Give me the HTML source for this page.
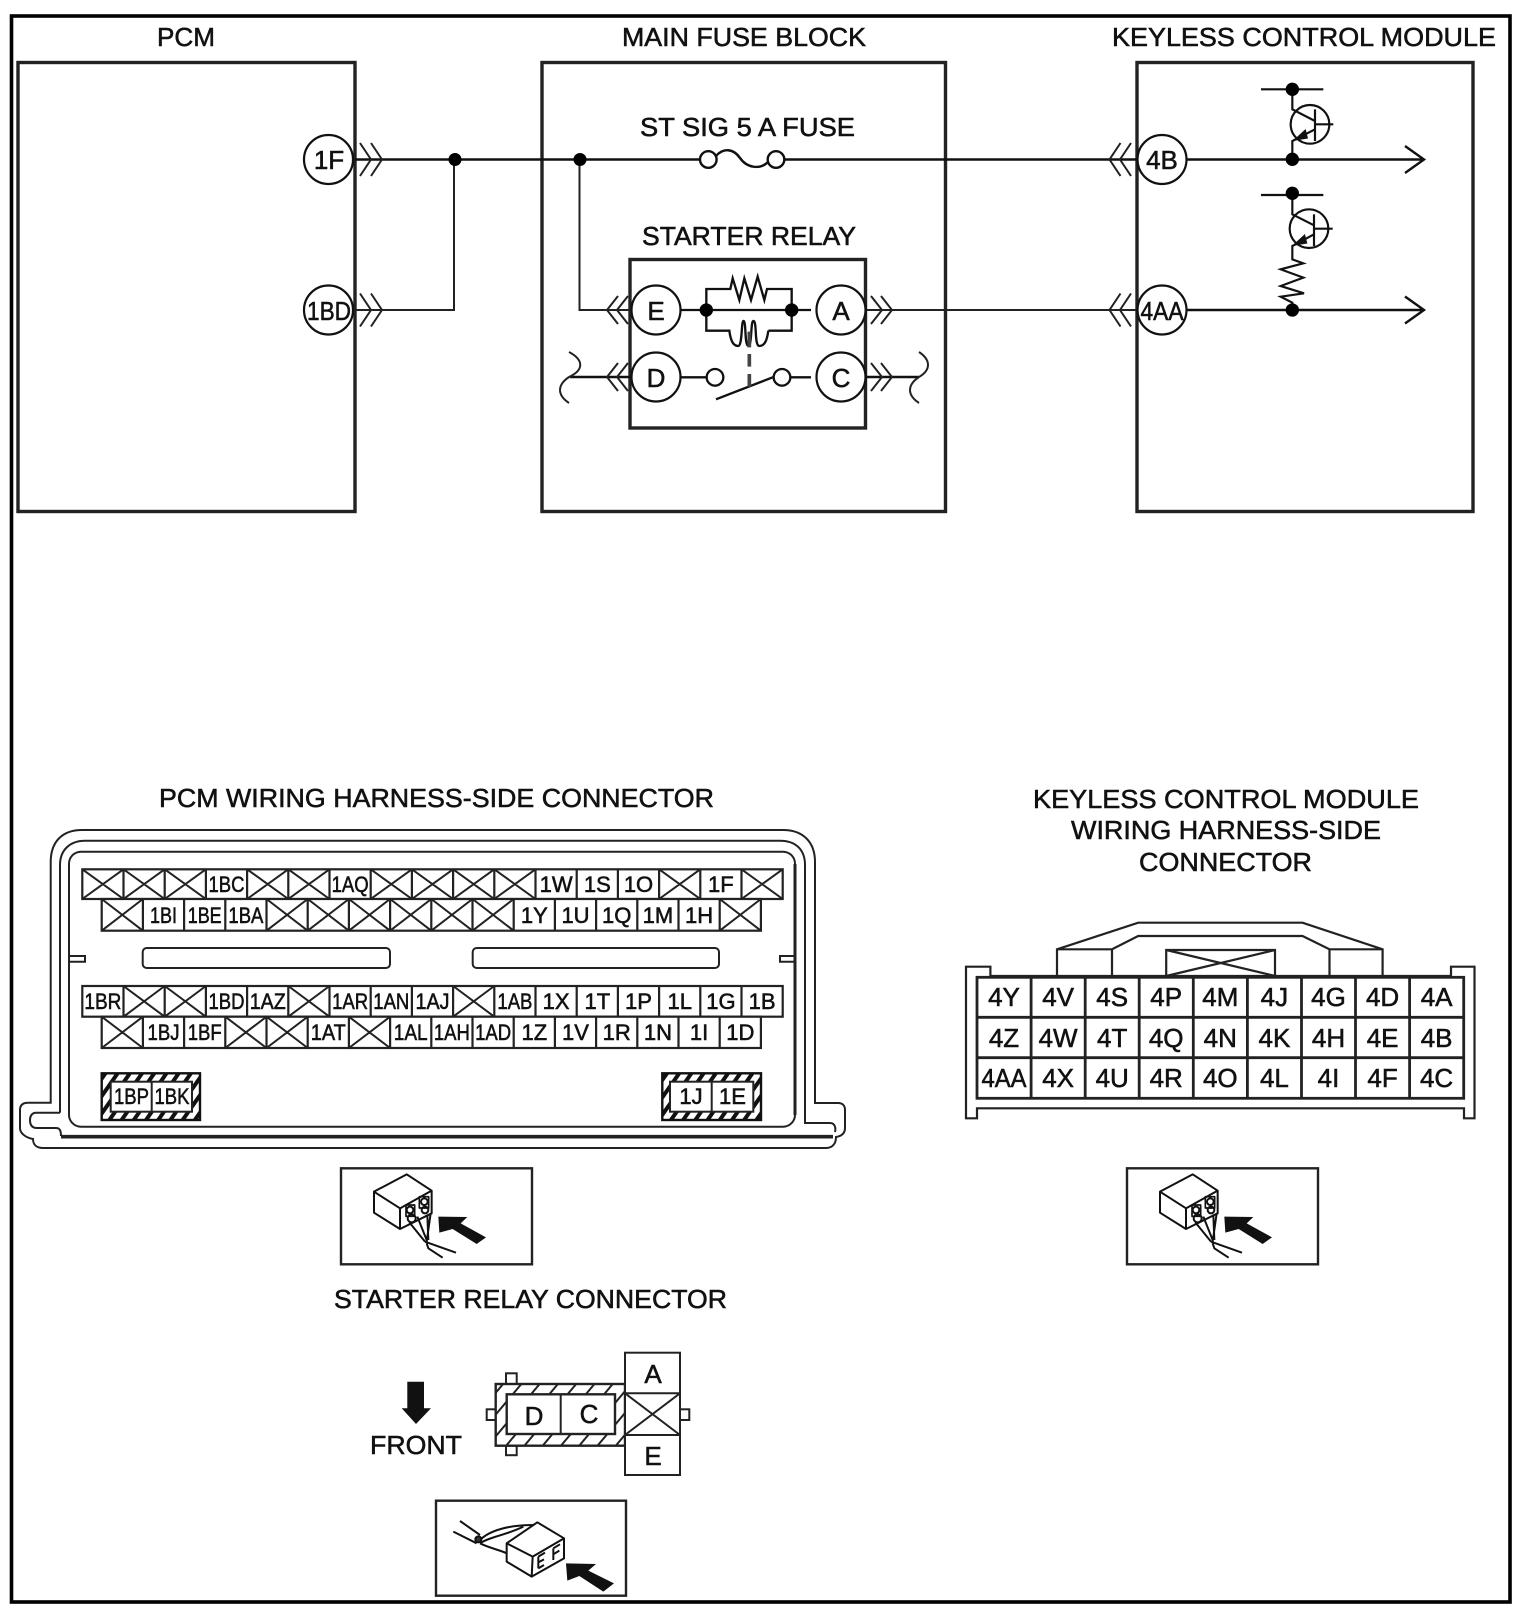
<!DOCTYPE html>
<html><head><meta charset="utf-8"><title>Starter relay wiring diagram</title>
<style>
html,body{margin:0;padding:0;background:#fff}
svg{display:block}
text{font-family:"Liberation Sans",sans-serif;fill:#111;stroke:#111;stroke-width:.55}
.t{font-size:26px;text-anchor:start}
.c{font-size:26px;text-anchor:middle}
.p{font-size:22px;text-anchor:middle}
.k{font-size:26px;text-anchor:middle}
.w{fill:none;stroke:#111;stroke-width:2.4}
.g{fill:none;stroke:#222;stroke-width:2}
.b{fill:none;stroke:#222;stroke-width:3.4}
</style></head><body>
<svg width="1526" height="1614" viewBox="0 0 1526 1614" xmlns="http://www.w3.org/2000/svg">
<defs>
<pattern id="h" width="10" height="10" patternUnits="userSpaceOnUse" patternTransform="rotate(35)"><rect width="10" height="10" fill="#fff"/><rect width="4" height="10" fill="#111"/></pattern>
<pattern id="h2" width="14" height="14" patternUnits="userSpaceOnUse" patternTransform="rotate(40)"><rect width="14" height="14" fill="#fff"/><rect width="2" height="14" fill="#222"/></pattern>
<g id="ic" fill="none" stroke="#111" stroke-width="6" stroke-linejoin="round">
<path d="M132 95L230 43L305 92L210 145ZM132 95V158L210 207V145M210 207L305 160V92"/>
<rect x="228" y="135" width="26" height="34" stroke-width="5"/><rect x="268" y="110" width="28" height="34" stroke-width="5"/>
<circle cx="240" cy="150" r="10"/><circle cx="245" cy="175" r="12"/><circle cx="283" cy="125" r="10"/><circle cx="285" cy="150" r="10"/>
<path d="M238 187L285 245M262 170L290 240M292 165L295 240M302 160L290 245M285 245L378 278M290 250L295 265L338 293"/>
<path d="M325 170L412 171L392 190L468 232L440 252L368 207L328 218Z" fill="#111" stroke="none"/>
</g>
</defs>
<rect width="1526" height="1614" fill="#fff"/>
<rect x="11.5" y="16" width="1498.5" height="1586" fill="none" stroke="#000" stroke-width="3.6"/>

<rect class="b" x="18" y="62.5" width="337" height="449"/>
<rect class="b" x="542" y="62.5" width="403.5" height="449"/>
<rect class="b" x="1137" y="62.5" width="336" height="449"/>
<rect class="b" x="630" y="259.5" width="235.5" height="168.5"/>

<text class="t" x="157" y="46" textLength="58" lengthAdjust="spacingAndGlyphs">PCM</text>
<text class="t" x="622" y="46" textLength="244" lengthAdjust="spacingAndGlyphs">MAIN FUSE BLOCK</text>
<text class="t" x="1112" y="46" textLength="384" lengthAdjust="spacingAndGlyphs">KEYLESS CONTROL MODULE</text>
<text class="t" x="640" y="136" textLength="215" lengthAdjust="spacingAndGlyphs">ST SIG 5 A FUSE</text>
<text class="t" x="642" y="245" textLength="214" lengthAdjust="spacingAndGlyphs">STARTER RELAY</text>

<!-- wires -->
<path class="w" d="M355 159.5H700M784 159.5H1137M1186 159.5H1423M1405 146L1424 159.5L1405 173"/>
<path class="w" d="M1186 310H1423M1405 296.5L1424 310L1405 323.5"/>
<path class="g" d="M355 310H454V159M579.5 159V310H631M866 310H1137"/>
<path class="w" d="M570 377H631M866 377H919"/>
<path class="g" d="M569 352C584 360 584 370 569 377C557 385 557 395 569 403M919 352C931 360 931 370 919 377C907 385 907 395 919 403" stroke-width="1.4"/>
<circle cx="455" cy="159.5" r="6.5" fill="#000"/><circle cx="580" cy="159.5" r="6.5" fill="#000"/>

<!-- chevrons -->
<path class="g" d="M360 143L371 159.5L360 176M371 143L382 159.5L371 176"/>
<path class="g" d="M360 293.5L371 310L360 326.5M371 293.5L382 310L371 326.5"/>
<path class="g" d="M1120.5 143L1109.5 159.5L1120.5 176M1131 143L1120 159.5L1131 176"/>
<path class="g" d="M1120.5 293.5L1109.5 310L1120.5 326.5M1131 293.5L1120 310L1131 326.5"/>
<path class="g" d="M618 296L607 310L618 324M628 296L617 310L628 324"/>
<path class="g" d="M618 363L607 377L618 391M628 363L617 377L628 391"/>
<path class="g" d="M871 296L882 310L871 324M881 296L892 310L881 324"/>
<path class="g" d="M871 363L882 377L871 391M881 363L892 377L881 391"/>

<!-- fuse -->
<g class="w"><circle cx="708.3" cy="159.5" r="8.3" fill="#fff"/><circle cx="776" cy="159.5" r="8.3" fill="#fff"/>
<path d="M716 156C723 148 733 148 740 158C747 168 760 170 768 162" fill="none"/></g>

<!-- relay interior -->
<g transform="translate(691,260) scale(.33333)" fill="none" stroke="#111" stroke-width="7">
<path d="M-60 150H300H360M46 150V87H118L125 55L145 120L160 55L180 120L200 50L220 120L228 87H302V212H232M46 150V212H115C120 250 130 258 142 258C155 255 150 180 158 183C166 186 160 255 172 258C184 255 178 180 188 183C198 186 190 255 204 258C222 258 228 240 232 212"/>
<path d="M-60 352H47M98 352H100M298 352H360"/>
<circle cx="72" cy="352" r="25" fill="#fff"/><circle cx="273" cy="352" r="25" fill="#fff"/>
<path d="M75 418L250 350"/>
<path d="M175 215V262M175 282V320M175 342V380" stroke="#444" stroke-width="11"/>
<circle cx="46" cy="150" r="20" fill="#000" stroke="none"/><circle cx="302" cy="150" r="20" fill="#000" stroke="none"/>
</g>

<!-- circles -->
<g fill="#fff" stroke="#111" stroke-width="2.2">
<circle cx="328.5" cy="159.5" r="24.5"/><circle cx="328.5" cy="310" r="24.5"/>
<circle cx="656" cy="310" r="24.5"/><circle cx="656" cy="377" r="24.5"/>
<circle cx="841" cy="310" r="24.5"/><circle cx="841" cy="377" r="24.5"/>
<circle cx="1162" cy="159.5" r="24.5"/><circle cx="1162" cy="310" r="24.5"/>
</g>
<text class="c" x="329" y="169">1F</text>
<text class="c" x="329" y="320" textLength="44" lengthAdjust="spacingAndGlyphs">1BD</text>
<text class="c" x="656" y="320">E</text>
<text class="c" x="656" y="387">D</text>
<text class="c" x="841" y="320">A</text>
<text class="c" x="841" y="387">C</text>
<text class="c" x="1162" y="169">4B</text>
<text class="c" x="1162" y="320" textLength="43" lengthAdjust="spacingAndGlyphs">4AA</text>

<!-- transistors -->
<g transform="translate(1250,76) scale(.33333)" fill="none" stroke="#111" stroke-width="6.5">
<path d="M33 40H220M127 40V100L195 135M195 100V195M195 145H250M195 160L127 195V252"/>
<circle cx="180" cy="145" r="58"/>
<path d="M138 190L165 165L170 185Z" fill="#111"/>
<circle cx="127" cy="40" r="20" fill="#000" stroke="none"/><circle cx="127" cy="250" r="20" fill="#000" stroke="none"/>
<path d="M33 357H220M127 352V415L192 448M192 415V510M192 458H248M192 475L127 510V550L160 562L92 580L160 605L92 630L162 652L92 662L127 680V702"/>
<circle cx="177" cy="458" r="58"/>
<path d="M136 505L163 480L168 500Z" fill="#111"/>
<circle cx="127" cy="352" r="20" fill="#000" stroke="none"/><circle cx="127" cy="702" r="20" fill="#000" stroke="none"/>
</g>

<!-- section labels -->
<text class="t" x="159" y="807" textLength="555" lengthAdjust="spacingAndGlyphs">PCM WIRING HARNESS-SIDE CONNECTOR</text>
<text class="t" x="1033" y="808" textLength="386" lengthAdjust="spacingAndGlyphs">KEYLESS CONTROL MODULE</text>
<text class="t" x="1071" y="839" textLength="310" lengthAdjust="spacingAndGlyphs">WIRING HARNESS-SIDE</text>
<text class="t" x="1139" y="871" textLength="173" lengthAdjust="spacingAndGlyphs">CONNECTOR</text>

<!-- PCM connector housing -->
<g fill="none" stroke="#222" stroke-width="2">
<path d="M50.7 1102.7V862C50.7 842 62 830 82 830H783C803 830 815 842 815 862V1103H838C843 1103 845 1106 845 1110V1128C845 1133 842 1136 836 1137C836 1143 833 1148 826 1148H43C37 1148 33 1145 33 1139C27 1138 20 1134 20 1128V1110C20 1105 23 1102.7 28 1102.7Z"/>
<path d="M60 1112.7V865C60 850 70 840.7 85 840.7H780C796 840.7 805 850 805 865V1123H830C835 1123 836 1128 835 1132"/>
<path d="M60 1112.7H36C32 1112.7 30 1116 30 1120C30 1125 32 1128 37 1128H56C60 1128 61 1131 61 1136"/>
<path d="M61 1136.7H833" stroke-width="3.6"/>
<rect x="69" y="851.7" width="726" height="275" rx="12"/>
<path d="M795 864V1115" stroke-width="3"/>
<path d="M69 956H85V961.7H69M795 956H780V961.7H795"/>
<rect x="142.7" y="948" width="247.3" height="20" rx="4"/>
<rect x="472.7" y="948" width="246.3" height="20" rx="4"/>
</g>

<!-- PCM grids -->
<g fill="#fff" stroke="#222" stroke-width="2.2">
<rect x="82.3" y="869.3" width="700.4" height="29.7"/>
<rect x="101.7" y="899" width="659.2" height="31.7"/>
<rect x="82.3" y="986" width="700.4" height="30.7"/>
<rect x="101.7" y="1016.7" width="659.2" height="31.3"/>
<path fill="none" d="M123.5 869.3V899M164.7 869.3V899M205.9 869.3V899M247.1 869.3V899M288.3 869.3V899M329.5 869.3V899M370.7 869.3V899M411.9 869.3V899M453.1 869.3V899M494.3 869.3V899M535.5 869.3V899M576.7 869.3V899M617.9 869.3V899M659.1 869.3V899M700.3 869.3V899M741.5 869.3V899"/>
<path fill="none" d="M142.9 899V930.7M184.1 899V930.7M225.3 899V930.7M266.5 899V930.7M307.7 899V930.7M348.9 899V930.7M390.1 899V930.7M431.3 899V930.7M472.5 899V930.7M513.7 899V930.7M554.9 899V930.7M596.1 899V930.7M637.3 899V930.7M678.5 899V930.7M719.7 899V930.7"/>
<path fill="none" d="M123.5 986V1016.7M164.7 986V1016.7M205.9 986V1016.7M247.1 986V1016.7M288.3 986V1016.7M329.5 986V1016.7M370.7 986V1016.7M411.9 986V1016.7M453.1 986V1016.7M494.3 986V1016.7M535.5 986V1016.7M576.7 986V1016.7M617.9 986V1016.7M659.1 986V1016.7M700.3 986V1016.7M741.5 986V1016.7"/>
<path fill="none" d="M142.9 1016.7V1048M184.1 1016.7V1048M225.3 1016.7V1048M266.5 1016.7V1048M307.7 1016.7V1048M348.9 1016.7V1048M390.1 1016.7V1048M431.3 1016.7V1048M472.5 1016.7V1048M513.7 1016.7V1048M554.9 1016.7V1048M596.1 1016.7V1048M637.3 1016.7V1048M678.5 1016.7V1048M719.7 1016.7V1048"/>
</g>
<!-- crosses -->
<path fill="none" stroke="#222" stroke-width="2" d="
M82.3 869.3L123.5 899M123.5 869.3L82.3 899
M123.5 869.3L164.7 899M164.7 869.3L123.5 899
M164.7 869.3L205.9 899M205.9 869.3L164.7 899
M247.1 869.3L288.3 899M288.3 869.3L247.1 899
M288.3 869.3L329.5 899M329.5 869.3L288.3 899
M370.7 869.3L411.9 899M411.9 869.3L370.7 899
M411.9 869.3L453.1 899M453.1 869.3L411.9 899
M453.1 869.3L494.3 899M494.3 869.3L453.1 899
M494.3 869.3L535.5 899M535.5 869.3L494.3 899
M659.1 869.3L700.3 899M700.3 869.3L659.1 899
M741.5 869.3L782.7 899M782.7 869.3L741.5 899
M101.7 899L142.9 930.7M142.9 899L101.7 930.7
M266.5 899L307.7 930.7M307.7 899L266.5 930.7
M307.7 899L348.9 930.7M348.9 899L307.7 930.7
M348.9 899L390.1 930.7M390.1 899L348.9 930.7
M390.1 899L431.3 930.7M431.3 899L390.1 930.7
M431.3 899L472.5 930.7M472.5 899L431.3 930.7
M472.5 899L513.7 930.7M513.7 899L472.5 930.7
M719.7 899L760.9 930.7M760.9 899L719.7 930.7
M123.5 986L164.7 1016.7M164.7 986L123.5 1016.7
M164.7 986L205.9 1016.7M205.9 986L164.7 1016.7
M288.3 986L329.5 1016.7M329.5 986L288.3 1016.7
M453.1 986L494.3 1016.7M494.3 986L453.1 1016.7
M101.7 1016.7L142.9 1048M142.9 1016.7L101.7 1048
M225.3 1016.7L266.5 1048M266.5 1016.7L225.3 1048
M266.5 1016.7L307.7 1048M307.7 1016.7L266.5 1048
M348.9 1016.7L390.1 1048M390.1 1016.7L348.9 1048"/>

<g class="pins">
<text class="p" x="226.5" y="892" textLength="36" lengthAdjust="spacingAndGlyphs">1BC</text>
<text class="p" x="350.1" y="892" textLength="37" lengthAdjust="spacingAndGlyphs">1AQ</text>
<text class="p" x="556.1" y="892">1W</text>
<text class="p" x="597.3" y="892">1S</text>
<text class="p" x="638.5" y="892">1O</text>
<text class="p" x="720.9" y="892">1F</text>

<text class="p" x="163.5" y="923" textLength="27" lengthAdjust="spacingAndGlyphs">1BI</text>
<text class="p" x="204.7" y="923" textLength="34" lengthAdjust="spacingAndGlyphs">1BE</text>
<text class="p" x="245.9" y="923" textLength="35" lengthAdjust="spacingAndGlyphs">1BA</text>
<text class="p" x="534.3" y="923">1Y</text>
<text class="p" x="575.5" y="923">1U</text>
<text class="p" x="616.7" y="923">1Q</text>
<text class="p" x="657.9" y="923">1M</text>
<text class="p" x="699.1" y="923">1H</text>

<text class="p" x="102.9" y="1009" textLength="37" lengthAdjust="spacingAndGlyphs">1BR</text>
<text class="p" x="226.5" y="1009" textLength="36" lengthAdjust="spacingAndGlyphs">1BD</text>
<text class="p" x="267.7" y="1009" textLength="36" lengthAdjust="spacingAndGlyphs">1AZ</text>
<text class="p" x="350.1" y="1009" textLength="36" lengthAdjust="spacingAndGlyphs">1AR</text>
<text class="p" x="391.3" y="1009" textLength="36" lengthAdjust="spacingAndGlyphs">1AN</text>
<text class="p" x="432.5" y="1009" textLength="34" lengthAdjust="spacingAndGlyphs">1AJ</text>
<text class="p" x="514.9" y="1009" textLength="35" lengthAdjust="spacingAndGlyphs">1AB</text>
<text class="p" x="556.1" y="1009">1X</text>
<text class="p" x="597.3" y="1009">1T</text>
<text class="p" x="638.5" y="1009">1P</text>
<text class="p" x="679.7" y="1009">1L</text>
<text class="p" x="720.9" y="1009">1G</text>
<text class="p" x="762.1" y="1009">1B</text>

<text class="p" x="163.5" y="1040" textLength="32" lengthAdjust="spacingAndGlyphs">1BJ</text>
<text class="p" x="204.7" y="1040" textLength="34" lengthAdjust="spacingAndGlyphs">1BF</text>
<text class="p" x="328.3" y="1040" textLength="35" lengthAdjust="spacingAndGlyphs">1AT</text>
<text class="p" x="410.7" y="1040" textLength="34" lengthAdjust="spacingAndGlyphs">1AL</text>
<text class="p" x="451.9" y="1040" textLength="36" lengthAdjust="spacingAndGlyphs">1AH</text>
<text class="p" x="493.1" y="1040" textLength="36" lengthAdjust="spacingAndGlyphs">1AD</text>
<text class="p" x="534.3" y="1040">1Z</text>
<text class="p" x="575.5" y="1040">1V</text>
<text class="p" x="616.7" y="1040">1R</text>
<text class="p" x="657.9" y="1040">1N</text>
<text class="p" x="699.1" y="1040">1I</text>
<text class="p" x="740.3" y="1040">1D</text>
</g>

<!-- hatched blocks -->
<rect x="101.7" y="1073.3" width="98.3" height="46.7" fill="url(#h)" stroke="#111" stroke-width="2.4"/>
<rect x="110.7" y="1081.7" width="81.3" height="30" fill="#fff" stroke="#222" stroke-width="2"/>
<path d="M151.7 1081.7V1111.7" stroke="#222" stroke-width="2"/>
<text class="p" x="131.5" y="1104" textLength="35" lengthAdjust="spacingAndGlyphs">1BP</text>
<text class="p" x="172" y="1104" textLength="35" lengthAdjust="spacingAndGlyphs">1BK</text>
<rect x="662.3" y="1073.3" width="98.7" height="46.7" fill="url(#h)" stroke="#111" stroke-width="2.4"/>
<rect x="670" y="1081.7" width="83.3" height="30" fill="#fff" stroke="#222" stroke-width="2"/>
<path d="M711.7 1081.7V1111.7" stroke="#222" stroke-width="2"/>
<text class="p" x="691" y="1104">1J</text>
<text class="p" x="732.5" y="1104">1E</text>

<!-- Keyless connector -->
<g fill="none" stroke="#222" stroke-width="2.2">
<path d="M1057 976V949.3L1138.2 922.7H1302.5L1382.6 949.3V976M1112 976V949.3L1138.2 936H1302.5L1329.5 949.3V976M1057 949.3H1112M1329.5 949.3H1382.6"/>
<path d="M1166.2 976V950H1275V976M1166.2 950L1275 976M1275 950L1166.2 976"/>
<path d="M966 1118.3V966.7H990.4V976H1451V966.7H1474.5V1118.3H1464V1108.3H977V1118.3Z"/>
<rect x="977" y="977.3" width="486.7" height="121" stroke-width="2.8"/>
<path stroke-width="2.8" d="M977 1017.3H1463.7M977 1057.7H1463.7M1031.1 977.3V1098.3M1085.2 977.3V1098.3M1139.2 977.3V1098.3M1193.3 977.3V1098.3M1247.4 977.3V1098.3M1301.5 977.3V1098.3M1355.5 977.3V1098.3M1409.6 977.3V1098.3"/>
</g>
<text class="k" x="1004" y="1006">4Y</text><text class="k" x="1058.1" y="1006">4V</text><text class="k" x="1112.2" y="1006">4S</text><text class="k" x="1166.2" y="1006">4P</text><text class="k" x="1220.3" y="1006" textLength="36" lengthAdjust="spacingAndGlyphs">4M</text><text class="k" x="1274.4" y="1006">4J</text><text class="k" x="1328.5" y="1006">4G</text><text class="k" x="1382.6" y="1006">4D</text><text class="k" x="1436.6" y="1006">4A</text>
<text class="k" x="1004" y="1047">4Z</text><text class="k" x="1058.1" y="1047" textLength="39" lengthAdjust="spacingAndGlyphs">4W</text><text class="k" x="1112.2" y="1047">4T</text><text class="k" x="1166.2" y="1047">4Q</text><text class="k" x="1220.3" y="1047">4N</text><text class="k" x="1274.4" y="1047">4K</text><text class="k" x="1328.5" y="1047">4H</text><text class="k" x="1382.6" y="1047">4E</text><text class="k" x="1436.6" y="1047">4B</text>
<text class="k" x="1004" y="1087" textLength="45" lengthAdjust="spacingAndGlyphs">4AA</text><text class="k" x="1058.1" y="1087">4X</text><text class="k" x="1112.2" y="1087">4U</text><text class="k" x="1166.2" y="1087">4R</text><text class="k" x="1220.3" y="1087">4O</text><text class="k" x="1274.4" y="1087">4L</text><text class="k" x="1328.5" y="1087">4I</text><text class="k" x="1382.6" y="1087">4F</text><text class="k" x="1436.6" y="1087">4C</text>

<!-- view icons -->
<rect x="341" y="1168.3" width="191" height="96" fill="none" stroke="#222" stroke-width="2.4"/>
<g transform="translate(330,1160) scale(.33333)"><use href="#ic"/></g>
<rect x="1127" y="1168.3" width="191" height="96" fill="none" stroke="#222" stroke-width="2.4"/>
<g transform="translate(1116,1160) scale(.33333)"><use href="#ic"/></g>

<!-- Starter relay connector -->
<text class="t" x="334" y="1308" textLength="393" lengthAdjust="spacingAndGlyphs">STARTER RELAY CONNECTOR</text>
<text class="t" x="370" y="1454" textLength="92" lengthAdjust="spacingAndGlyphs">FRONT</text>
<path d="M407.3 1381.7H424V1408.3H431L416 1424L401.7 1408.3H407.3Z" fill="#111"/>

<g fill="#fff" stroke="#222" stroke-width="2">
<rect x="506" y="1373.3" width="10.7" height="11"/>
<rect x="506" y="1445.7" width="10.7" height="9.5"/>
<rect x="486.7" y="1409.3" width="9" height="10.7"/>
<rect x="680" y="1409.3" width="9.3" height="10.7"/>
<rect x="495.7" y="1384" width="129.3" height="61.7" fill="url(#h2)" stroke-width="2.4"/>
<rect x="506.7" y="1394.3" width="108.3" height="39.7" stroke-width="2.4"/>
<path d="M560.7 1394.3V1434"/>
<rect x="625" y="1352.7" width="55" height="122.3"/>
<path d="M625 1393.3H680M625 1435H680M625 1393.3L680 1435M680 1393.3L625 1435"/>
</g>
<text class="k" x="534" y="1425">D</text>
<text class="k" x="589" y="1423">C</text>
<text class="k" x="653" y="1383">A</text>
<text class="k" x="653" y="1465">E</text>

<!-- bottom view box -->
<rect x="436" y="1500.7" width="190" height="95" fill="none" stroke="#222" stroke-width="2.4"/>
<g transform="translate(330,1160) scale(.33333)" fill="none" stroke="#111" stroke-width="6" stroke-linejoin="round">
<path d="M530 1150L622 1087L702 1135L608 1190ZM530 1150V1205L605 1250L608 1190M605 1250L702 1195V1135"/>
<path d="M625 1190V1225M625 1190L645 1178M625 1207L642 1198M625 1225L642 1215M670 1165V1200M670 1165L690 1153M670 1183L688 1172"/>
<path d="M390 1083L450 1125M370 1115L440 1150M450 1140C480 1110 540 1095 610 1095M450 1150C480 1130 530 1125 580 1100M450 1150C480 1165 510 1170 530 1180"/>
<circle cx="445" cy="1138" r="9" fill="#333"/>
<path d="M708 1210L798 1212L775 1232L852 1270L820 1295L748 1248L712 1262Z" fill="#111" stroke="none"/>
</g>
</svg>
</body></html>
